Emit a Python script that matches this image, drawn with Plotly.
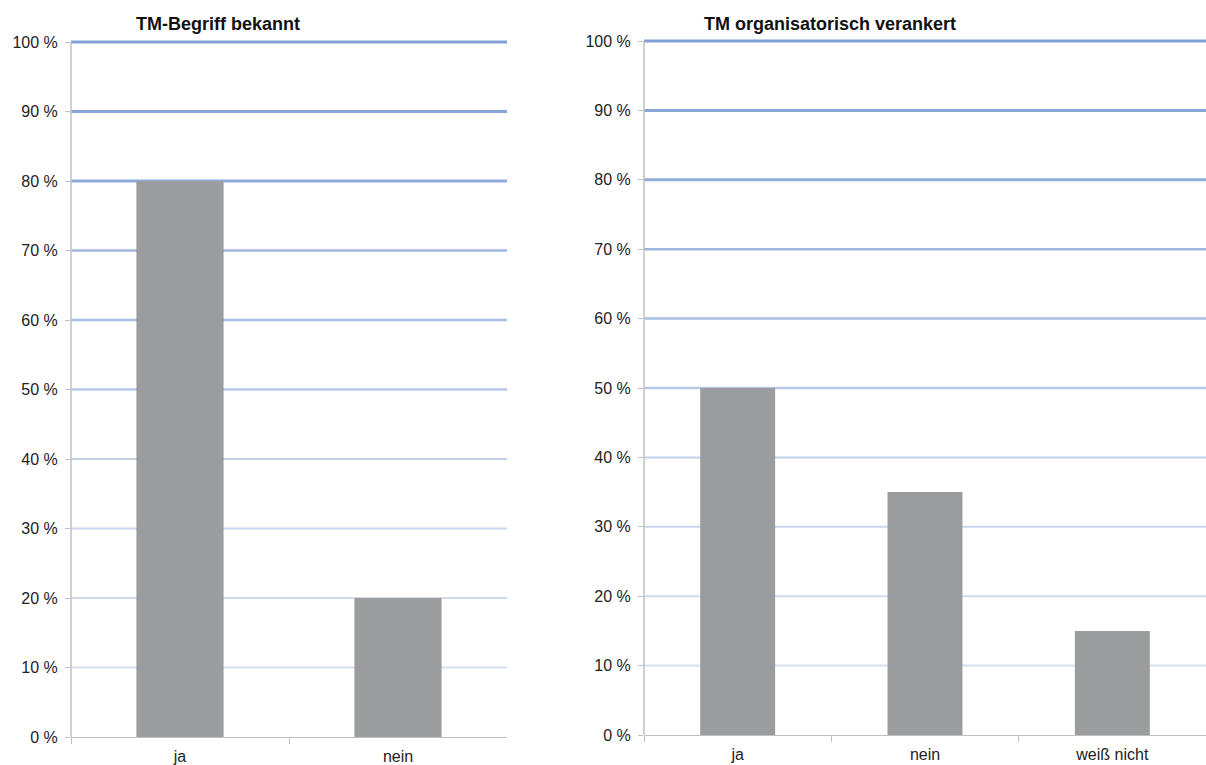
import plotly.graph_objects as go

# ---- data ----
left_title = "TM-Begriff bekannt"
left_categories = ["ja", "nein"]
left_values = [80, 20]

right_title = "TM organisatorisch verankert"
right_categories = ["ja", "nein", "weiß nicht"]
right_values = [50, 35, 15]

tick_values = [0, 10, 20, 30, 40, 50, 60, 70, 80, 90, 100]
tick_labels = ["0 %", "10 %", "20 %", "30 %", "40 %", "50 %", "60 %", "70 %", "80 %", "90 %", "100 %"]

# ---- styles ----
W, H = 1206, 765
BAR = "#9a9c9d"
AXIS = "#c0c0c0"
FONT = "Liberation Sans, Arial, sans-serif"
grid_colors = {10: "#d6e0ef", 20: "#d0dcee", 30: "#c9d7ec", 40: "#c0d1ea",
               50: "#b4c7e4", 60: "#a9bfe2", 70: "#9eb7df", 80: "#8fabda",
               90: "#86a5d8", 100: "#80a0d6"}
grid_widths = {10: 2, 20: 2, 30: 2, 40: 2, 50: 2.5, 60: 2.5, 70: 2.5, 80: 3, 90: 3, 100: 3}
YTOP = 100.4  # tiny headroom so the 100 % line is not clipped


def ydomain(px_top_100, px_zero):
    per = (px_zero - px_top_100) / 100.0
    top_px = px_top_100 - (YTOP - 100) * per
    return [(H - px_zero) / H, (H - top_px) / H]


fig = go.Figure()
fig.add_trace(go.Bar(x=left_categories, y=left_values, marker=dict(color=BAR, line=dict(width=0)),
                     width=0.40, xaxis="x", yaxis="y", showlegend=False))
fig.add_trace(go.Bar(x=right_categories, y=right_values, marker=dict(color=BAR, line=dict(width=0)),
                     width=0.40, xaxis="x2", yaxis="y2", showlegend=False))

shapes = []
for xr, yr in (("x domain", "y"), ("x2 domain", "y2")):
    for v in tick_values:
        if v == 0:
            continue
        shapes.append(dict(type="line", xref=xr, yref=yr, x0=0, x1=1, y0=v, y1=v,
                           line=dict(color=grid_colors[v], width=grid_widths[v]), layer="below"))

common_y = dict(range=[0, YTOP], tickvals=tick_values, ticktext=tick_labels, showgrid=False,
                showline=False, ticks="outside", ticklen=5, ticklabelstandoff=4,
                tickcolor=AXIS, tickfont=dict(family=FONT, size=16, color="#222"), zeroline=False,
                fixedrange=True, automargin=False)
common_x = dict(type="category", showgrid=False, showline=True, linecolor=AXIS, linewidth=1,
                ticks="outside", ticklen=6, tickcolor=AXIS, tickson="boundaries",
                ticklabelstandoff=5,
                tickfont=dict(family=FONT, size=16, color="#222"), zeroline=False,
                automargin=False)

# y axis lines drawn only from 0 to 100
for xr, yr in (("x domain", "y"), ("x2 domain", "y2")):
    shapes.append(dict(type="line", xref=xr, yref=yr, x0=0, x1=0, y0=0, y1=100,
                       line=dict(color=AXIS, width=1.5), layer="above"))

fig.update_layout(
    width=W, height=H, margin=dict(l=0, r=0, t=0, b=0, autoexpand=False),
    paper_bgcolor="white", plot_bgcolor="white",
    xaxis=dict(domain=[71 / W, 507 / W], anchor="y", **common_x),
    yaxis=dict(domain=ydomain(42, 737), anchor="x", **common_y),
    xaxis2=dict(domain=[644 / W, 1.0], anchor="y2", **common_x),
    yaxis2=dict(domain=ydomain(41, 735), anchor="x2", **common_y),
    shapes=shapes,
    annotations=[
        dict(text="<b>" + left_title + "</b>", xref="paper", yref="paper",
             x=218 / W, y=1 - 24 / H, showarrow=False, xanchor="center", yanchor="middle",
             font=dict(family=FONT, size=18, color="#111")),
        dict(text="<b>" + right_title + "</b>", xref="paper", yref="paper",
             x=830 / W, y=1 - 24 / H, showarrow=False, xanchor="center", yanchor="middle",
             font=dict(family=FONT, size=18, color="#111")),
    ],
)

fig.write_html("out.html")
